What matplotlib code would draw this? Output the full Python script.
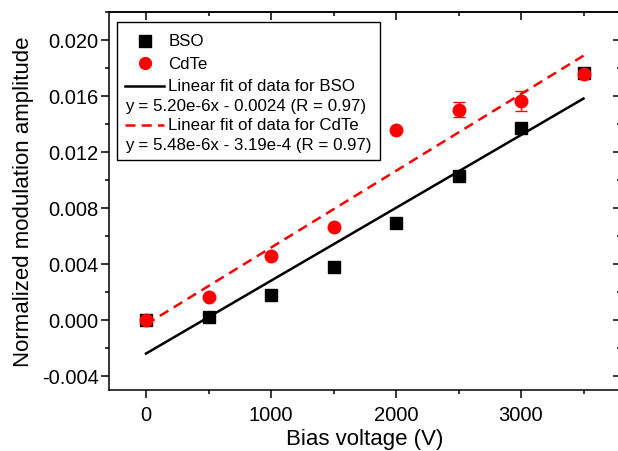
import numpy as np
import matplotlib
matplotlib.use("Agg")
import matplotlib.pyplot as plt
from matplotlib.lines import Line2D
from matplotlib.offsetbox import AnchoredOffsetbox, VPacker, HPacker, TextArea, DrawingArea
from matplotlib.ticker import MultipleLocator, FormatStrFormatter

plt.rcParams['font.family'] = ['Liberation Sans', 'DejaVu Sans']

# data
voltage = [0, 500, 1000, 1500, 2000, 2500, 3000, 3500]
bso = [0.0000, 0.00024, 0.00177, 0.00375, 0.00691, 0.01025, 0.01371, 0.01762]
bso_err = [0, 0, 0, 0, 0, 0, 0.0001, 0.0001]
cdte = [0.0000, 0.00164, 0.00458, 0.00665, 0.01356, 0.01500, 0.01562, 0.01755]
cdte_err = [0, 0, 0, 0, 0, 0.00054, 0.0007, 0.0002]

# linear fits as given in the legend: slope, intercept
fit_bso = (5.20e-6, -0.0024)
fit_cdte = (5.48e-6, -3.19e-4)
fit_range = [0, 3500]

labels = ["BSO", "CdTe", "Linear fit of data for BSO",
          "y = 5.20e-6x - 0.0024 (R = 0.97)",
          "Linear fit of data for CdTe",
          "y = 5.48e-6x - 3.19e-4 (R = 0.97)"]

fig = plt.figure(figsize=(6.18, 4.52), dpi=100)
ax = fig.add_axes([108.5 / 618, 1 - 391 / 452, 512.5 / 618, 378.3 / 452])

xf = np.array(fit_range)
ax.plot(xf, fit_bso[0] * xf + fit_bso[1], color='black', lw=1.8, zorder=2)
ax.plot(xf, fit_cdte[0] * xf + fit_cdte[1], color='red', lw=1.8,
        dashes=(4, 2.5), zorder=2)

ax.errorbar(voltage, bso, yerr=bso_err, fmt='s', color='black', ms=8,
            capsize=4, elinewidth=1, capthick=1, zorder=3)
ax.errorbar(voltage, cdte, yerr=cdte_err, fmt='o', color='red', ms=9,
            capsize=4, elinewidth=1, capthick=1, zorder=4)

ax.set_xlim(-300, 3800)
ax.set_ylim(-0.005, 0.022)
ax.xaxis.set_major_locator(MultipleLocator(1000))
ax.xaxis.set_minor_locator(MultipleLocator(500))
ax.yaxis.set_major_locator(MultipleLocator(0.004))
ax.yaxis.set_minor_locator(MultipleLocator(0.002))
ax.yaxis.set_major_formatter(FormatStrFormatter('%.3f'))

for s in ax.spines.values():
    s.set_linewidth(1.1)
ax.tick_params(which='both', direction='out', width=1.1, labelsize=14.5,
               top=False, right=False)
ax.tick_params(which='major', length=6)
ax.tick_params(which='minor', length=3)
ax.tick_params(axis='y', pad=1)
ax.tick_params(axis='x', pad=5)

# mirrored inward ticks on top and right
top = ax.secondary_xaxis('top')
top.xaxis.set_major_locator(MultipleLocator(1000))
top.xaxis.set_minor_locator(MultipleLocator(500))
right = ax.secondary_yaxis('right')
right.yaxis.set_major_locator(MultipleLocator(0.004))
right.yaxis.set_minor_locator(MultipleLocator(0.002))
for sec, axis, side in ((top, top.xaxis, 'top'), (right, right.yaxis, 'right')):
    sec.tick_params(which='both', direction='in', width=1.1)
    sec.tick_params(which='major', length=6)
    sec.tick_params(which='minor', length=3)
    axis.set_ticklabels([])
    sec.spines[side].set_linewidth(1.1)

ax.set_xlabel("Bias voltage (V)", fontsize=16, labelpad=3)
ax.set_ylabel("Normalized modulation amplitude", fontsize=16, labelpad=6)

# legend built from offset boxes so the equation rows sit flush left
tp = dict(size=12.2, color='black')


def handle(**kw):
    da = DrawingArea(28, 15, 0, 0)
    if 'marker' in kw:
        da.add_artist(Line2D([14], [7.5], linestyle='none', **kw))
    else:
        da.add_artist(Line2D([0, 28], [7.5, 7.5], **kw))
    return da


rows = [
    HPacker(children=[handle(marker='s', color='black', ms=8), TextArea(labels[0], textprops=tp)],
            sep=3, pad=0, align='center'),
    HPacker(children=[handle(marker='o', color='red', ms=8.5), TextArea(labels[1], textprops=tp)],
            sep=3, pad=0, align='center'),
    HPacker(children=[handle(color='black', lw=1.8), TextArea(labels[2], textprops=tp)],
            sep=3, pad=0, align='center'),
    TextArea(labels[3], textprops=tp),
    HPacker(children=[handle(color='red', lw=1.8, dashes=(4, 2.5)), TextArea(labels[4], textprops=tp)],
            sep=3, pad=0, align='center'),
    TextArea(labels[5], textprops=tp),
]
box = VPacker(children=rows, sep=1.2, pad=0, align='left')
anchored = AnchoredOffsetbox(loc='upper left', child=box, pad=0.5, borderpad=0,
                             prop=dict(size=12), frameon=True,
                             bbox_to_anchor=(0.0166, 0.9728),
                             bbox_transform=ax.transAxes)
anchored.patch.set_edgecolor('black')
anchored.patch.set_linewidth(1.0)
ax.add_artist(anchored)

fig.savefig("out.png", dpi=100)
